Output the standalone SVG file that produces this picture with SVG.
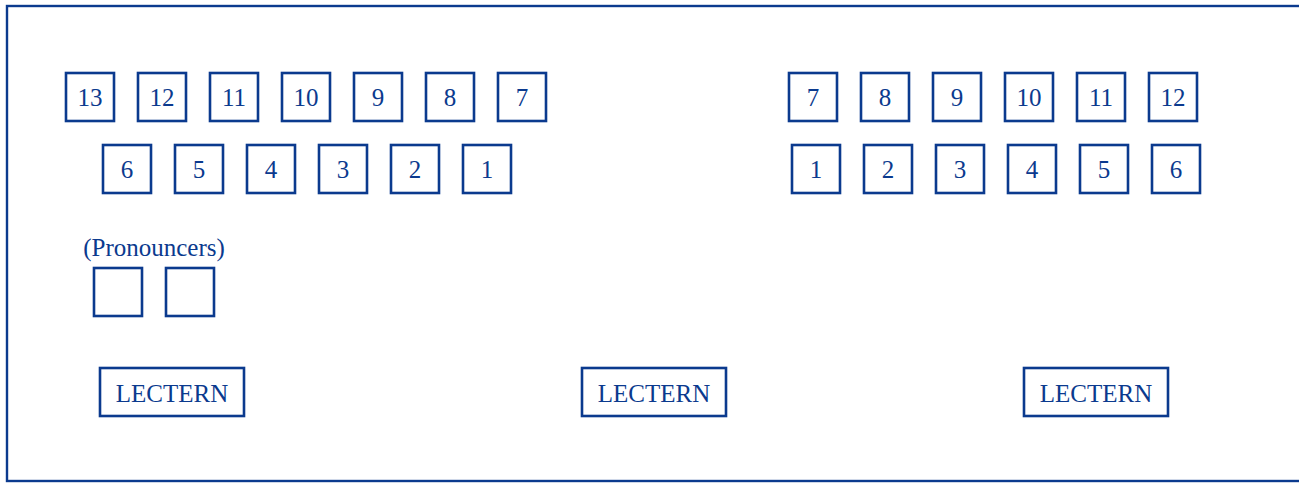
<svg xmlns="http://www.w3.org/2000/svg" width="1299" height="483" viewBox="0 0 1299 483">
<style>
.b{fill:#fff;stroke:#0b3a8e;stroke-width:2.6}
.t{font-family:"Liberation Serif",serif;font-size:25px;fill:#0b3a8e;text-anchor:middle}
</style>
<rect x="0" y="0" width="1299" height="483" fill="#fff"/>
<rect id="frame" x="7" y="6" width="1300" height="475" fill="none" stroke="#0b3a8e" stroke-width="2.4"/>
<g id="left-row1">
<g id="L13"><rect class="b" x="66" y="73" width="48" height="48"/><text class="t" x="90" y="106">13</text></g>
<g id="L12"><rect class="b" x="138" y="73" width="48" height="48"/><text class="t" x="162" y="106">12</text></g>
<g id="L11"><rect class="b" x="210" y="73" width="48" height="48"/><text class="t" x="234" y="106">11</text></g>
<g id="L10"><rect class="b" x="282" y="73" width="48" height="48"/><text class="t" x="306" y="106">10</text></g>
<g id="L9"><rect class="b" x="354" y="73" width="48" height="48"/><text class="t" x="378" y="106">9</text></g>
<g id="L8"><rect class="b" x="426" y="73" width="48" height="48"/><text class="t" x="450" y="106">8</text></g>
<g id="L7"><rect class="b" x="498" y="73" width="48" height="48"/><text class="t" x="522" y="106">7</text></g>
</g>
<g id="left-row2">
<g id="L6"><rect class="b" x="103" y="145" width="48" height="48"/><text class="t" x="127" y="178">6</text></g>
<g id="L5"><rect class="b" x="175" y="145" width="48" height="48"/><text class="t" x="199" y="178">5</text></g>
<g id="L4"><rect class="b" x="247" y="145" width="48" height="48"/><text class="t" x="271" y="178">4</text></g>
<g id="L3"><rect class="b" x="319" y="145" width="48" height="48"/><text class="t" x="343" y="178">3</text></g>
<g id="L2"><rect class="b" x="391" y="145" width="48" height="48"/><text class="t" x="415" y="178">2</text></g>
<g id="L1"><rect class="b" x="463" y="145" width="48" height="48"/><text class="t" x="487" y="178">1</text></g>
</g>
<g id="right-row1">
<g id="R7"><rect class="b" x="789" y="73" width="48" height="48"/><text class="t" x="813" y="106">7</text></g>
<g id="R8"><rect class="b" x="861" y="73" width="48" height="48"/><text class="t" x="885" y="106">8</text></g>
<g id="R9"><rect class="b" x="933" y="73" width="48" height="48"/><text class="t" x="957" y="106">9</text></g>
<g id="R10"><rect class="b" x="1005" y="73" width="48" height="48"/><text class="t" x="1029" y="106">10</text></g>
<g id="R11"><rect class="b" x="1077" y="73" width="48" height="48"/><text class="t" x="1101" y="106">11</text></g>
<g id="R12"><rect class="b" x="1149" y="73" width="48" height="48"/><text class="t" x="1173" y="106">12</text></g>
</g>
<g id="right-row2">
<g id="R1"><rect class="b" x="792" y="145" width="48" height="48"/><text class="t" x="816" y="178">1</text></g>
<g id="R2"><rect class="b" x="864" y="145" width="48" height="48"/><text class="t" x="888" y="178">2</text></g>
<g id="R3"><rect class="b" x="936" y="145" width="48" height="48"/><text class="t" x="960" y="178">3</text></g>
<g id="R4"><rect class="b" x="1008" y="145" width="48" height="48"/><text class="t" x="1032" y="178">4</text></g>
<g id="R5"><rect class="b" x="1080" y="145" width="48" height="48"/><text class="t" x="1104" y="178">5</text></g>
<g id="R6"><rect class="b" x="1152" y="145" width="48" height="48"/><text class="t" x="1176" y="178">6</text></g>
</g>
<g id="pronouncers">
<text class="t" x="154" y="256">(Pronouncers)</text>
<rect id="P1" class="b" x="94" y="268" width="48" height="48"/>
<rect id="P2" class="b" x="166" y="268" width="48" height="48"/>
</g>
<g id="lectern-left"><rect class="b" x="100" y="368" width="144" height="48"/><text class="t" x="172" y="402">LECTERN</text></g>
<g id="lectern-mid"><rect class="b" x="582" y="368" width="144" height="48"/><text class="t" x="654" y="402">LECTERN</text></g>
<g id="lectern-right"><rect class="b" x="1024" y="368" width="144" height="48"/><text class="t" x="1096" y="402">LECTERN</text></g>
<g id="connectors"/>
</svg>
